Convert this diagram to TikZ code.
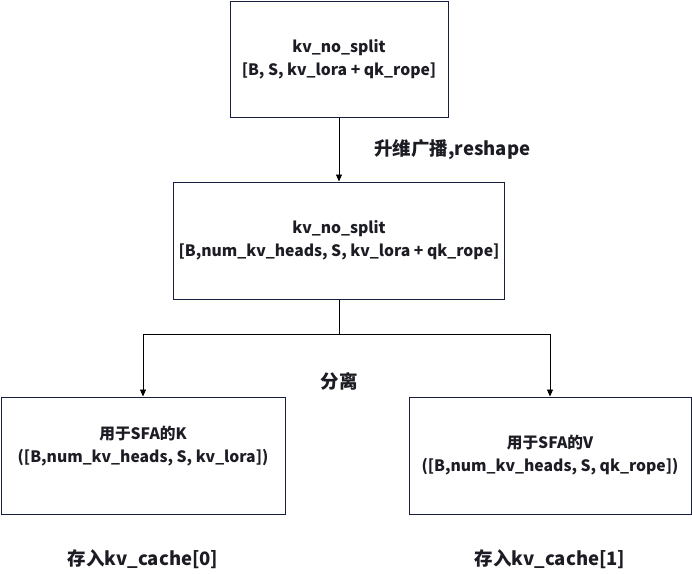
\documentclass[tikz,border=0pt]{standalone}
\usepackage{fontspec}
\setmainfont{Noto Sans CJK SC}
\usepackage{tikz}
\usetikzlibrary{arrows.meta,positioning}
\usepackage{xcolor}
\definecolor{boxline}{RGB}{24,30,62}
\definecolor{txt}{RGB}{28,28,36}
\tikzset{
  tbox/.style = {rectangle, draw=boxline, line width=1pt, fill=white,
                 text=txt, align=center, inner sep=0pt,
                 font=\fontsize{15.7}{23}\selectfont\bfseries},
  lbl/.style  = {text=txt, inner sep=0pt,
                 font=\fontsize{18.5}{22}\selectfont\bfseries},
  arr/.style  = {-{Triangle[length=7pt,width=6pt]}, line width=0.9pt, draw=black},
}

\begin{document}
\begin{tikzpicture}[x=1pt, y=1pt, node distance=64pt and 40pt]
\useasboundingbox (0,0) rectangle (692,-573);

%% input and broadcast
\node[tbox, minimum width=218pt, minimum height=116pt] (kvin) at (339,-59)
  {kv\_no\_split\\{}[B, S, kv\_lora + qk\_rope]};
\node[tbox, minimum width=331pt, minimum height=117pt, below=64pt of kvin] (kvbc)
  {kv\_no\_split\\{}[B,num\_kv\_heads, S, kv\_lora + qk\_rope]};

%% split into K and V
\node[tbox, minimum width=284pt, minimum height=117pt, below=97pt of kvbc, xshift=-196pt] (kpart)
  {用于SFA的K\\([B,num\_kv\_heads, S, kv\_lora])\\~};
\node[tbox, minimum width=282pt, minimum height=117pt, below=97pt of kvbc, xshift=211pt] (vpart)
  {用于SFA的V\\([B,num\_kv\_heads, S, qk\_rope])};

\coordinate[below=35pt of kvbc.south] (fork);

%% labels
\node[lbl, below=38pt of fork] (splitlbl) {分离};
\node[lbl, below=35pt of kpart] (kstore) {存入kv\_cache[0]};
\node[lbl, below=35pt of vpart] (vstore) {存入kv\_cache[1]};

%% arrows
\draw[arr] (kvin) -- (kvbc)
  node[midway, right=35pt, lbl] {升维广播,reshape};
\draw[line width=0.9pt] (kvbc.south) -- (fork);
\draw[arr] (fork) -| (kpart.north);
\draw[arr] (fork) -| (vpart.north);

\end{tikzpicture}
\end{document}
